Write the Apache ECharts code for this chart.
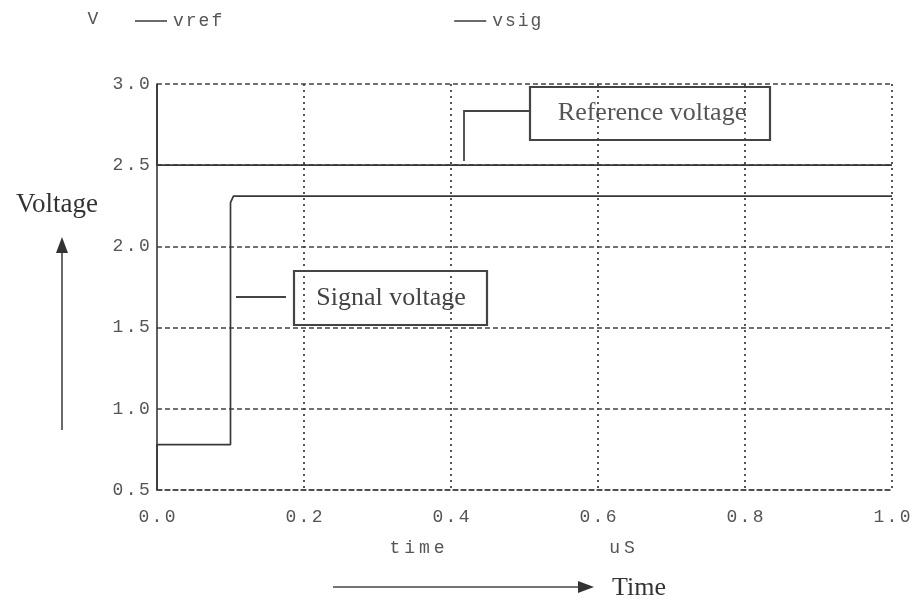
<!DOCTYPE html>
<html>
<head>
<meta charset="utf-8">
<script src="https://cdn.jsdelivr.net/npm/echarts@6/dist/echarts.min.js"></script>
<style>html,body{margin:0;padding:0;background:#fff}#c{width:920px;height:601px}</style>
</head>
<body>
<div id="c"></div>
<script>
// ---- data ----
const seriesNames = ['vref', 'vsig'];
const vrefTime = [0, 0, 1.0];
const vrefVolt = [3.0, 2.5, 2.5];
const vsigTime = [0, 0, 0.1, 0.1, 0.104, 1.0];
const vsigVolt = [0.5, 0.78, 0.78, 2.27, 2.31, 2.31];
const xTickLabels = ['0.0', '0.2', '0.4', '0.6', '0.8', '1.0'];
const yTickLabels = ['0.5', '1.0', '1.5', '2.0', '2.5', '3.0'];
const yUnit = 'V';
const xName = 'time';
const xUnit = 'uS';
const annRef = 'Reference voltage';
const annSig = 'Signal voltage';
const bigY = 'Voltage';
const bigX = 'Time';

const pair = (t, v) => t.map((x, i) => [x, v[i]]);
const mono = 'Liberation Mono';
const serif = 'Liberation Serif';
const ink = '#383838';
const monoGray = '#555';
// spread characters like the typewriter-style text of the original
const spaced = s => s.split('').map(c => '{c|' + c + '}').join('');
const spacedRich = (size, pad, color) => ({ c: { fontFamily: mono, fontSize: size, color: color, fill: color, padding: [0, pad, 0, pad] } });
const labelRich = spacedRich(18, 1.2, monoGray);

const chart = echarts.init(document.getElementById('c'));
chart.setOption({
  animation: false,
  backgroundColor: '#fff',
  grid: { left: 157, right: 28, top: 84, bottom: 111 },
  legend: {
    left: 135, top: 12, itemGap: 232, padding: 0,
    itemWidth: 32, itemHeight: 1.5,
    icon: 'rect',
    formatter: n => spaced(n),
    textStyle: { rich: spacedRich(18, 1.0, monoGray) },
    data: seriesNames
  },
  xAxis: {
    type: 'value', min: 0, max: 1.0, interval: 0.2,
    axisLine: { show: true, lineStyle: { color: '#444', type: [5, 3], width: 1.5 } },
    axisTick: { show: false },
    axisLabel: { margin: 18, formatter: (v) => spaced(xTickLabels[Math.round(v / 0.2)] || ''), rich: labelRich },
    splitLine: { show: true, showMinLine: false, lineStyle: { color: '#444', type: [2, 4], width: 1.8 } }
  },
  yAxis: {
    type: 'value', min: 0.5, max: 3.0, interval: 0.5,
    axisLine: { show: true, lineStyle: { color: ink, width: 1.6 } },
    axisTick: { show: false },
    axisLabel: { margin: 6, formatter: (v) => spaced(yTickLabels[Math.round((v - 0.5) / 0.5)] || ''), rich: labelRich },
    splitLine: { show: true, lineStyle: { color: '#444', type: [5, 3], width: 1.5 } }
  },
  series: [
    { name: 'vref', type: 'line', data: pair(vrefTime, vrefVolt), showSymbol: false, symbol: 'none',
      lineStyle: { color: ink, width: 1.7 }, itemStyle: { color: ink } },
    { name: 'vsig', type: 'line', data: pair(vsigTime, vsigVolt), showSymbol: false, symbol: 'none',
      lineStyle: { color: ink, width: 1.7 }, itemStyle: { color: ink } }
  ],
  graphic: [
    { type: 'text', x: 93, y: 19, style: { text: yUnit, font: '18px "' + mono + '"', fill: monoGray, align: 'center', verticalAlign: 'middle' } },
    { type: 'text', x: 417, y: 548, style: { text: spaced(xName), fill: monoGray, rich: spacedRich(18, 2, monoGray), align: 'center', verticalAlign: 'middle' } },
    { type: 'text', x: 622, y: 548, style: { text: spaced(xUnit), fill: monoGray, rich: spacedRich(18, 2, monoGray), align: 'center', verticalAlign: 'middle' } },
    { type: 'text', x: 16, y: 205, style: { text: bigY, font: '27px "' + serif + '"', fill: '#333', verticalAlign: 'middle' } },
    { type: 'text', x: 612, y: 588, style: { text: bigX, font: '26px "' + serif + '"', fill: '#333', verticalAlign: 'middle' } },
    // vertical arrow
    { type: 'line', shape: { x1: 62, y1: 430, x2: 62, y2: 252 }, style: { stroke: '#444', lineWidth: 1.6 } },
    { type: 'polygon', shape: { points: [[62, 237], [56, 253], [68, 253]] }, style: { fill: '#333' } },
    // horizontal arrow
    { type: 'line', shape: { x1: 333, y1: 587, x2: 580, y2: 587 }, style: { stroke: '#444', lineWidth: 1.6 } },
    { type: 'polygon', shape: { points: [[594, 587], [578, 581], [578, 593]] }, style: { fill: '#333' } },
    // Reference annotation
    { type: 'rect', shape: { x: 530, y: 87, width: 240, height: 53 }, style: { fill: '#fff', stroke: '#444', lineWidth: 2.2 } },
    { type: 'text', x: 652, y: 113, style: { text: annRef, font: '26px "' + serif + '"', fill: '#555', align: 'center', verticalAlign: 'middle' } },
    { type: 'polyline', shape: { points: [[530, 111], [464, 111], [464, 161]] }, style: { stroke: '#444', lineWidth: 1.8, fill: null } },
    // Signal annotation
    { type: 'rect', shape: { x: 294, y: 271, width: 193, height: 54 }, style: { fill: '#fff', stroke: '#444', lineWidth: 2.2 } },
    { type: 'text', x: 391, y: 298, style: { text: annSig, font: '26px "' + serif + '"', fill: '#444', align: 'center', verticalAlign: 'middle' } },
    { type: 'line', shape: { x1: 236, y1: 297, x2: 286, y2: 297 }, style: { stroke: '#444', lineWidth: 1.8 } }
  ]
});
</script>
</body>
</html>
